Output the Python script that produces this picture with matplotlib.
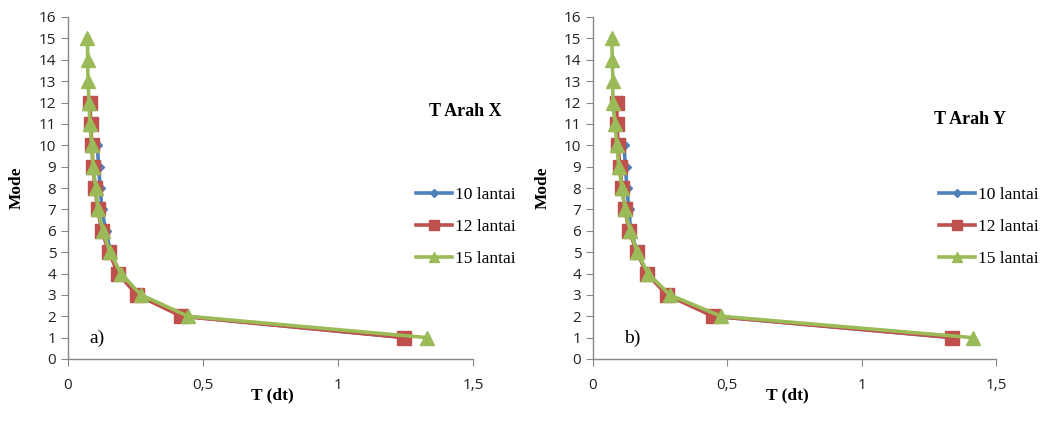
import numpy as np
import matplotlib
matplotlib.use('Agg')
import matplotlib.pyplot as plt

blue = '#4F81BD'
red = '#C0504D'
green = '#9BBB59'

modes_10 = list(range(1, 11))
modes_12 = list(range(1, 13))
modes_15 = list(range(1, 16))

# arah X
tx_10 = [1.25, 0.43, 0.26, 0.19, 0.158, 0.14, 0.125, 0.12, 0.113, 0.109]
tx_12 = [1.246, 0.42, 0.255, 0.185, 0.152, 0.125, 0.11, 0.10, 0.093, 0.088, 0.085, 0.081]
tx_15 = [1.33, 0.445, 0.27, 0.196, 0.155, 0.13, 0.11, 0.103, 0.093, 0.088, 0.081, 0.078,
         0.074, 0.073, 0.072]

# arah Y
ty_10 = [1.34, 0.45, 0.28, 0.20, 0.165, 0.14, 0.134, 0.126, 0.121, 0.115]
ty_12 = [1.338, 0.446, 0.275, 0.20, 0.164, 0.134, 0.119, 0.108, 0.10, 0.093, 0.09, 0.088]
ty_15 = [1.413, 0.476, 0.286, 0.205, 0.164, 0.138, 0.119, 0.108, 0.096, 0.089, 0.082, 0.074,
         0.074, 0.072, 0.07]

x_ticks = [0, 0.5, 1, 1.5]
x_ticklabels = ['0', '0,5', '1', '1,5']
series_labels = ['10 lantai', '12 lantai', '15 lantai']

W, H = 1046, 434
fig = plt.figure(figsize=(W / 100, H / 100), dpi=100)
serif = 'Liberation Serif'
sans = 'Open Sans'


def px(x, y):
    return x / W, 1 - y / H


def panel(left_px, right_px, d10, d12, d15, title, title_xy, tag, tag_xy,
          leg_xy, ylab_x, xlab_x):
    l, _ = px(left_px, 0)
    w = (right_px - left_px) / W
    b = (H - 359) / H
    h = (359 - 17) / H
    ax = fig.add_axes([l, b, w, h])
    ax.plot(d10, modes_10, color=blue, lw=2.6, marker='D', ms=5, label=series_labels[0])
    ax.plot(d12, modes_12, color=red, lw=2.6, marker='s', ms=9.5, label=series_labels[1])
    ax.plot(d15, modes_15, color=green, lw=2.6, marker='^', ms=10, label=series_labels[2])
    ax.set_xlim(0, 1.5)
    ax.set_ylim(0, 16)
    ax.set_xticks(x_ticks)
    ax.set_xticklabels(x_ticklabels)
    ax.set_yticks(range(0, 17))
    for s in ['top', 'right']:
        ax.spines[s].set_visible(False)
    for s in ['left', 'bottom']:
        ax.spines[s].set_color('#888888')
        ax.spines[s].set_linewidth(1.0)
    ax.tick_params(axis='both', direction='out', color='#888888', length=5,
                   labelsize=11, labelcolor='#222222')
    ax.tick_params(axis='x', pad=9)
    for t in ax.get_xticklabels() + ax.get_yticklabels():
        t.set_fontfamily(sans)
    fig.text(*px(*title_xy), title, family=serif, weight='bold', fontsize=13,
             ha='center', va='center')
    fig.text(*px(*tag_xy), tag, family=serif, fontsize=14, ha='center', va='center')
    fig.text(*px(ylab_x, 188), 'Mode', family=serif, weight='bold', fontsize=12.5,
             rotation=90, ha='center', va='center')
    fig.text(*px(xlab_x, 395), 'T (dt)', family=serif, weight='bold', fontsize=12.5,
             ha='center', va='center')
    ax.legend(loc='upper left', bbox_to_anchor=px(*leg_xy), bbox_transform=fig.transFigure,
              frameon=False, handlelength=2.1, handletextpad=0.15, labelspacing=0.9,
              markerscale=0.75, prop={'family': serif, 'size': 12.5}, borderaxespad=0,
              borderpad=0)
    return ax


panel(68, 473, tx_10, tx_12, tx_15, 'T Arah X', (465, 112), 'a)', (97, 338),
      (416, 187), 17, 272)
panel(593, 996, ty_10, ty_12, ty_15, 'T Arah Y', (970, 120), 'b)', (632, 338),
      (939, 187), 543, 787)

fig.savefig('out.png', dpi=100)
